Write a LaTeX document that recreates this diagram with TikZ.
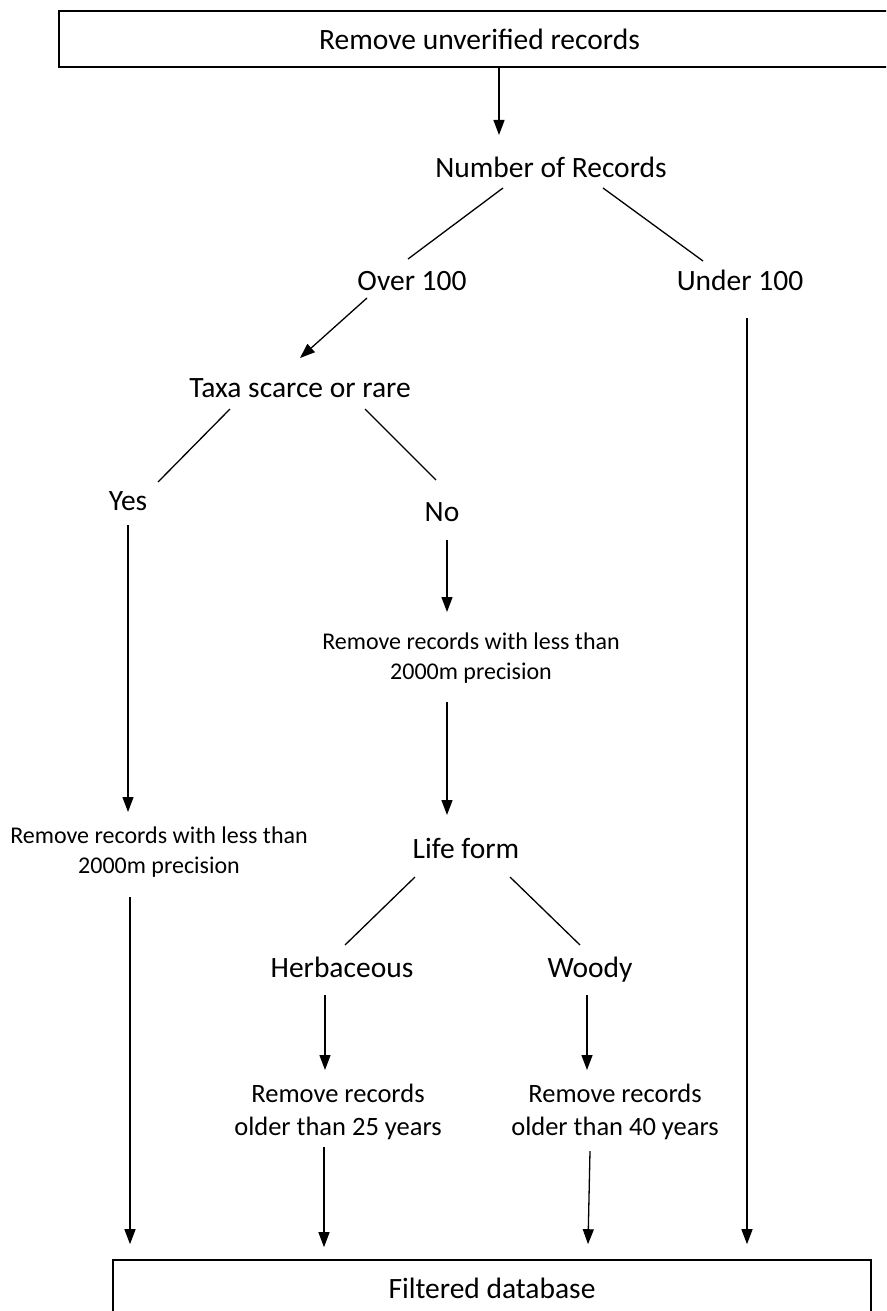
\documentclass[tikz,border=0pt]{standalone}
\usepackage{fontspec}
\setmainfont{Carlito}
\usetikzlibrary{arrows.meta}
\begin{document}
\begin{tikzpicture}[x=1pt,y=-1pt,
  lbl/.style={font=\fontsize{29.5}{34}\selectfont, inner sep=0pt, align=center, text height=22pt, text depth=3pt},
  sml/.style={font=\fontsize{24}{30}\selectfont, inner sep=0pt, align=center},
  old/.style={font=\fontsize{26.5}{33}\selectfont, inner sep=0pt, align=center},
  boxnode/.style={draw, line width=1.6pt, inner sep=0pt, font=\fontsize{29.5}{34}\selectfont},
  ln/.style={line width=1.3pt},
  arr/.style={ln, -{Triangle[width=11pt,length=15pt]}}]
\useasboundingbox (0,0) rectangle (886,1311);
\clip (0,0) rectangle (886,1311);
\node[boxnode, minimum width=841pt, minimum height=56pt] (top) at (479.5,39) {Remove unverified records};
\node[lbl] (nr) at (551,168) {Number of Records};
\node[lbl] (over) at (412,281) {Over 100};
\node[lbl] (under) at (740,281) {Under 100};
\node[lbl] (taxa) at (300,388) {Taxa scarce or rare};
\node[lbl] (yes) at (128,501) {Yes};
\node[lbl] (no) at (442,512) {No};
\node[sml] (prec1) at (471,658) {Remove records with less than\\2000m precision};
\node[sml] (prec2) at (159,852) {Remove records with less than\\2000m precision};
\node[lbl] (life) at (466,849) {Life form};
\node[lbl] (herb) at (342,968) {Herbaceous};
\node[lbl] (woody) at (590,968) {Woody};
\node[old] (old25) at (338,1112) {Remove records\\older than 25 years};
\node[old] (old40) at (615,1112) {Remove records\\older than 40 years};
\node[boxnode, minimum width=758pt, minimum height=56pt] (bot) at (492,1288) {Filtered database};

\draw[arr] ([xshift=19.5pt]top.south) -- ([shift={(-52,-33)}]nr.center);
\draw[ln] ([shift={(-48,20)}]nr.center) -- ([shift={(-4,-22)}]over.center);
\draw[ln] ([shift={(52,20)}]nr.center) -- ([shift={(-37,-20)}]under.center);
\draw[arr] ([shift={(-45,17)}]over.center) -- ([shift={(0,-30)}]taxa.center);
\draw[ln] ([shift={(-70,21)}]taxa.center) -- ([shift={(30,-19)}]yes.center);
\draw[ln] ([shift={(65,21)}]taxa.center) -- ([shift={(-6,-32)}]no.center);
\draw[arr] ([shift={(0,24)}]yes.center) -- ([shift={(-31,-40)}]prec2.center);
\draw[arr] ([shift={(5,28)}]no.center) -- ([shift={(-24,-46)}]prec1.center);
\draw[arr] ([shift={(-24,44)}]prec1.center) -- ([shift={(-19,-34)}]life.center);
\draw[ln] ([shift={(-51,28)}]life.center) -- ([shift={(3,-23)}]herb.center);
\draw[ln] ([shift={(44,28)}]life.center) -- ([shift={(-10,-23)}]woody.center);
\draw[arr] ([shift={(-17,27)}]herb.center) -- ([shift={(-13,-42)}]old25.center);
\draw[arr] ([shift={(-3,27)}]woody.center) -- ([shift={(-28,-42)}]old40.center);
\draw[arr] ([shift={(-29,45)}]prec2.center) -- ([shift={(-362,-15)}]bot.north);
\draw[arr] ([shift={(-14,35)}]old25.center) -- ([shift={(-168,-12)}]bot.north);
\draw[arr] ([shift={(-25,39)}]old40.center) -- ([shift={(96,-15)}]bot.north);
\draw[arr] ([shift={(7,37)}]under.center) -- ([shift={(255,-15)}]bot.north);
\end{tikzpicture}
\end{document}
